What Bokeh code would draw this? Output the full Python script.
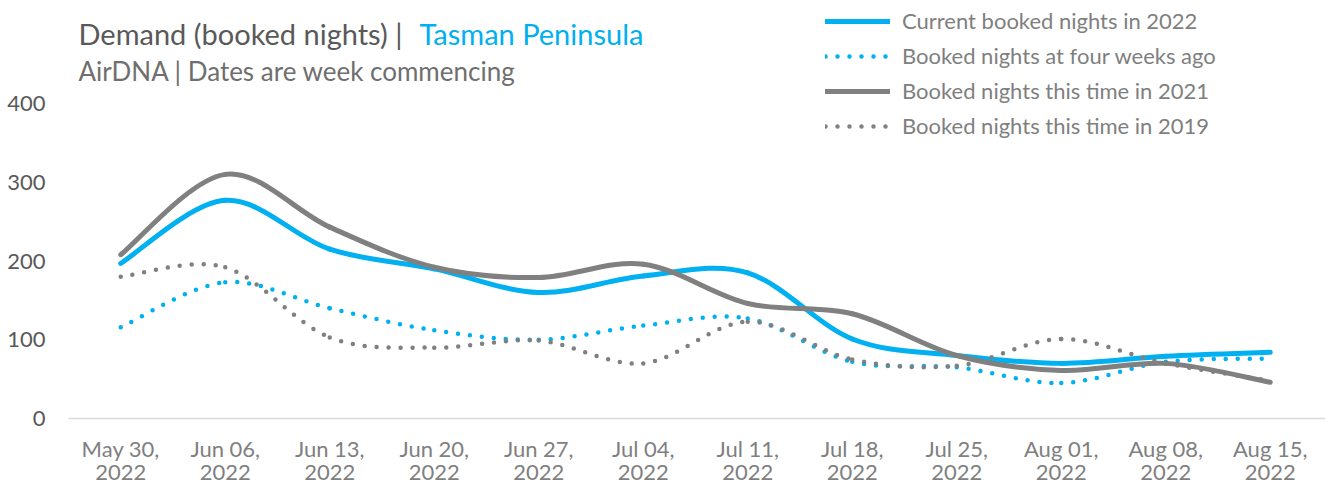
import numpy as np
from bokeh.plotting import figure
from bokeh.models import (ColumnDataSource, Legend, LegendItem, Label, LabelSet,
                          FixedTicker, Range1d)
from bokeh.core.properties import value
from bokeh.embed import file_html
from bokeh.resources import INLINE

# ---------------- data ----------------
weeks = ["May 30,\n2022", "Jun 06,\n2022", "Jun 13,\n2022", "Jun 20,\n2022",
         "Jun 27,\n2022", "Jul 04,\n2022", "Jul 11,\n2022", "Jul 18,\n2022",
         "Jul 25,\n2022", "Aug 01,\n2022", "Aug 08,\n2022", "Aug 15,\n2022"]
current_2022 = [197, 277, 215, 190, 160, 181, 185, 101, 80, 70, 79, 84]
four_weeks_ago = [116, 173, 140, 112, 100, 118, 127, 72, 65, 45, 72, 76]
this_time_2021 = [208, 310, 243, 192, 179, 196, 146, 133, 80, 61, 70, 46]
this_time_2019 = [180, 192, 103, 90, 99, 70, 123, 75, 67, 101, 70, 48]
y_ticks = [0, 100, 200, 300, 400]

series_labels = ["Current booked nights in 2022", "Booked nights at four weeks ago",
                 "Booked nights this time in 2021", "Booked nights this time in 2019"]

BLUE = "#00B0F0"
GREY = "#808080"
FONT = "Lato"


def smooth_source(vals):
    """Bezier segments through the data points (Excel-like smoothed line)."""
    y = np.asarray(vals, dtype=float)
    n = len(y)
    x = np.arange(n, dtype=float)
    xp = np.concatenate([[x[0]], x, [x[-1]]])
    yp = np.concatenate([[y[0]], y, [y[-1]]])
    return ColumnDataSource(dict(
        x0=x[:-1], y0=y[:-1], x1=x[1:], y1=y[1:],
        cx0=x[:-1] + (xp[2:n + 1] - xp[0:n - 1]) / 6.0,
        cy0=y[:-1] + (yp[2:n + 1] - yp[0:n - 1]) / 6.0,
        cx1=x[1:] - (xp[3:n + 2] - xp[1:n]) / 6.0,
        cy1=y[1:] - (yp[3:n + 2] - yp[1:n]) / 6.0,
    ))


W, H = 1325, 489
frame_left = 68
zero_px = 418          # canvas row of value 0
px_per_cat = 104.5
px_per_unit = 0.7875

p = figure(width=W, height=H, output_backend="svg", toolbar_location=None,
           x_range=Range1d(-0.5, -0.5 + (W - frame_left) / px_per_cat),
           y_range=Range1d(-(H - zero_px) / px_per_unit, zero_px / px_per_unit),
           min_border_left=frame_left, min_border_right=0, min_border_top=0,
           min_border_bottom=0)
p.outline_line_color = None
p.grid.visible = False
p.background_fill_color = "white"
p.border_fill_color = "white"

styles = [
    (current_2022, BLUE, 5, "solid"),
    (four_weeks_ago, BLUE, 4.5, "0 12"),
    (this_time_2021, GREY, 5, "solid"),
    (this_time_2019, GREY, 4.5, "0 12"),
]
renderers = []
for vals, col, lw, dash in styles:
    r = p.bezier(x0="x0", y0="y0", x1="x1", y1="y1", cx0="cx0", cy0="cy0",
                 cx1="cx1", cy1="cy1", source=smooth_source(vals),
                 line_color=col, line_width=lw, line_dash=dash, line_cap="round")
    renderers.append(r)

# x axis: line at value 0, category labels below it
xa = p.xaxis[0]
xa.fixed_location = 0
xa.ticker = FixedTicker(ticks=[])
xa.axis_line_color = "#d9d9d9"
xa.axis_line_width = 1.5
xa.major_tick_line_color = None
xa.minor_tick_line_color = None
xa.major_tick_out = 0
xa.major_tick_in = 0

cat_src = ColumnDataSource(dict(
    x=list(range(len(weeks))),
    line1=[w.split("\n")[0] for w in weeks],
    line2=[w.split("\n")[1] for w in weeks],
))
for col, row_px in (("line1", 448), ("line2", 472)):
    p.add_layout(LabelSet(x="x", y=H - row_px, y_units="screen", text=col,
                          source=cat_src, text_align="center",
                          text_baseline="middle", text_font=value(FONT),
                          text_font_size=value("22px"), text_color="#7f7f7f"))

ya = p.yaxis[0]
ya.ticker = FixedTicker(ticks=y_ticks)
ya.axis_line_color = None
ya.major_tick_line_color = None
ya.minor_tick_line_color = None
ya.major_tick_out = 0
ya.major_tick_in = 0
ya.major_label_standoff = 23
ya.major_label_text_font = FONT
ya.major_label_text_font_size = "22px"
ya.major_label_text_color = "#595959"

# legend
legend = Legend(
    items=[LegendItem(label=lab, renderers=[r]) for lab, r in zip(series_labels, renderers)],
    location=(757, 350), orientation="vertical",
    border_line_color=None, background_fill_alpha=0,
    glyph_width=65, glyph_height=26, label_standoff=12, spacing=8,
    padding=0, margin=0, label_text_font=FONT, label_text_font_size="22px",
    label_text_color="#7f7f7f", label_height=26,
)
p.add_layout(legend)

# titles
p.add_layout(Label(x=10, y=H - 33, x_units="screen", y_units="screen",
                   text="Demand (booked nights) |", text_font=FONT,
                   text_font_size="29px", text_color="#595959",
                   text_baseline="alphabetic"))
p.add_layout(Label(x=351, y=H - 33, x_units="screen", y_units="screen",
                   text="Tasman Peninsula", text_font=FONT,
                   text_font_size="29px", text_color=BLUE,
                   text_baseline="alphabetic"))
p.add_layout(Label(x=10, y=H - 70, x_units="screen", y_units="screen",
                   text="AirDNA | Dates are week commencing", text_font=FONT,
                   text_font_size="26px", text_color="#6f6f6f",
                   text_baseline="alphabetic"))

open("out.html", "w").write(file_html(p, INLINE))
